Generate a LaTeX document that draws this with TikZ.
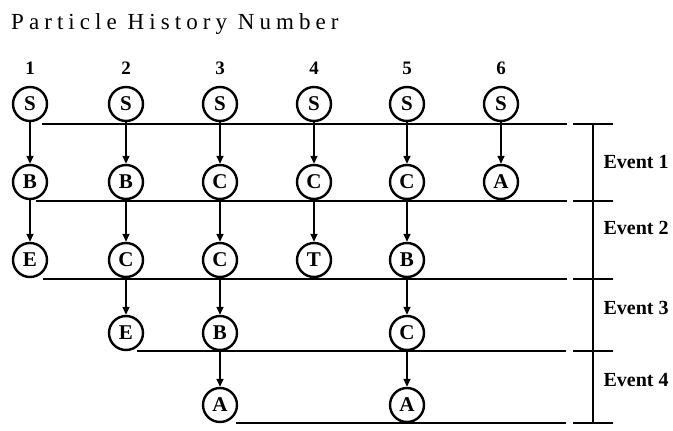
\documentclass[tikz,border=0pt]{standalone}
\usepackage{fontspec}
\setmainfont{Liberation Serif}
\usetikzlibrary{arrows.meta}
\begin{document}
\begin{tikzpicture}[x=1pt,y=-1pt,
  state/.style={circle,draw,line width=2.4pt,minimum size=34pt,inner sep=0pt,
    font=\fontsize{21}{21}\selectfont\bfseries},
  flow/.style={line width=1.5pt,-{Triangle[width=7pt,length=8pt]}},
  sepline/.style={line width=1.7pt},
  colnum/.style={font=\fontsize{19}{19}\selectfont\bfseries},
  evt/.style={anchor=west,font=\fontsize{20}{20}\selectfont\bfseries}]
\useasboundingbox (0,0) rectangle (673,431);

% title
\node[anchor=base west,inner sep=0pt,
  font=\fontsize{23}{23}\selectfont\addfontfeature{LetterSpace=22}] (title) at (11,30) {Particle History Number};

% history numbers
\foreach \i/\x in {1/30,2/126,3/220,4/314,5/407,6/501}
  \node[colnum] (h\i) at (\x,68) {\i};

% start states
\foreach \i/\x in {1/30,2/126,3/220,4/314,5/407,6/501}
  \node[state] (n\i1) at (\x,104) {S};

% event 1 outcomes
\node[state] (n12) at (30,182)  {B};
\node[state] (n22) at (126,182) {B};
\node[state] (n32) at (220,182) {C};
\node[state] (n42) at (314,182) {C};
\node[state] (n52) at (407,182) {C};
\node[state] (n62) at (501,182) {A};

% event 2 outcomes
\node[state] (n13) at (30,260)  {E};
\node[state] (n23) at (126,260) {C};
\node[state] (n33) at (220,260) {C};
\node[state] (n43) at (314,260) {T};
\node[state] (n53) at (407,260) {B};

% event 3 outcomes
\node[state] (n24) at (126,333) {E};
\node[state] (n34) at (220,333) {B};
\node[state] (n54) at (407,333) {C};

% event 4 outcomes
\node[state] (n35) at (220,405) {A};
\node[state] (n55) at (407,405) {A};

% transitions
\foreach \a/\b in {n11/n12,n12/n13,
                   n21/n22,n22/n23,n23/n24,
                   n31/n32,n32/n33,n33/n34,n34/n35,
                   n41/n42,n42/n43,
                   n51/n52,n52/n53,n53/n54,n54/n55,
                   n61/n62}
  \draw[flow] (\a) -- (\b);

% event boundaries
\coordinate (l1a) at (42,124);  \coordinate (l1b) at (567,124);
\coordinate (l2a) at (36,201);  \coordinate (l2b) at (567,201);
\coordinate (l3a) at (43,279);  \coordinate (l3b) at (567,279);
\coordinate (l4a) at (137,351); \coordinate (l4b) at (566,351);
\coordinate (l5a) at (236,423); \coordinate (l5b) at (566,423);
\foreach \k in {1,...,5}
  \draw[sepline] (l\k a) -- (l\k b);

% event bracket
\foreach \k/\y in {1/124,2/201,3/279,4/351,5/423}
  \draw[sepline] (573,\y) coordinate (t\k a) -- (613,\y) coordinate (t\k b);
\coordinate (vtop) at (593,124);
\coordinate (vbot) at (593,423);
\draw[sepline] (vtop) -- (vbot);

\node[evt] (ev1) at (600,162) {Event 1};
\node[evt] (ev2) at (600,228) {Event 2};
\node[evt] (ev3) at (600,308) {Event 3};
\node[evt] (ev4) at (600,380) {Event 4};
\end{tikzpicture}
\end{document}
